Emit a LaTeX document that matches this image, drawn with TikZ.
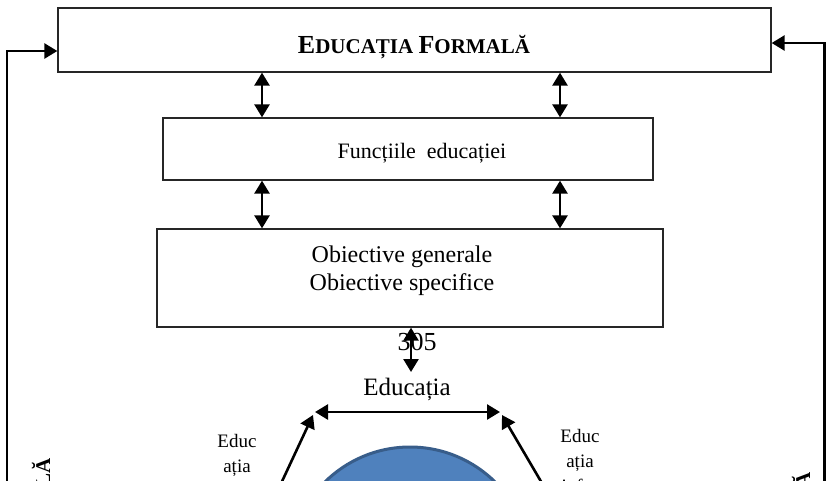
\documentclass[tikz,border=0pt]{standalone}
\usepackage{fontspec}
\setmainfont{Liberation Serif}
\usetikzlibrary{arrows.meta}
\definecolor{corefill}{RGB}{79,129,189}
\definecolor{coreedge}{RGB}{56,93,138}
% hand-made small capitals: full-size initial, smaller remaining letters
\newcommand{\scbig}{\fontsize{26}{30}\selectfont}
\newcommand{\scsmall}{\fontsize{21}{25}\selectfont}

\begin{document}
\begin{tikzpicture}[x=1pt,y=-1pt,
  box/.style={draw=black!85, line width=1.3pt, fill=white, inner sep=0pt},
  link/.style={line width=2.6pt, -{Triangle[length=13pt,width=15pt]}},
  both/.style={line width=2.6pt, {Triangle[length=13pt,width=15pt]}-{Triangle[length=13pt,width=15pt]}},
  bodytext/.style={inner sep=0pt, anchor=base, font=\fontsize{24}{28}\selectfont},
  sidetext/.style={inner sep=0pt, anchor=base, font=\fontsize{19}{24}\selectfont},
  headtext/.style={inner sep=0pt, font=\bfseries}]

\useasboundingbox (0,0) rectangle (826,480);
\clip (0,0) rectangle (826,480);

% columns used by the vertical double arrows
\coordinate (colL) at (262,0);
\coordinate (colR) at (560,0);
\coordinate (colM) at (411,0);

% the three stacked boxes
\node[box, minimum width=713pt, minimum height=64pt] (formal) at (414.5,40) {};
\node[headtext, anchor=base] (formaltxt) at (414,53)
  {\scbig E\scsmall DUCAȚIA \scbig F\scsmall ORMALĂ};

\node[box, minimum width=490pt, minimum height=62pt] (funct) at (408,149) {};
\node[bodytext, font=\fontsize{22}{26}\selectfont] (functxt) at (422,158) {Funcțiile\ \ educației};

\node[box, minimum width=506pt, minimum height=98pt] (obj) at (410,278) {};
\node[bodytext] (objA) at (402,262) {Obiective generale};
\node[bodytext] (objB) at (402,290) {Obiective specifice};

\draw[both] (formal.south -| colL) -- (funct.north -| colL);
\draw[both] (formal.south -| colR) -- (funct.north -| colR);
\draw[both] (funct.south -| colL) -- (obj.north -| colL);
\draw[both] (funct.south -| colR) -- (obj.north -| colR);

% page number and the link down to the lower part
\node[bodytext, font=\fontsize{26}{30}\selectfont] (pagenum) at (417,350) {305};
\coordinate (midEnd) at (411,372);
\draw[both] (obj.south -| colM) -- (midEnd);

\node[bodytext, font=\fontsize{25}{29}\selectfont] (edu) at (407,395) {Educația};

% upper link of the lower triangle
\coordinate (hl) at (315,412);
\coordinate (hr) at (500,412);
\draw[both] (hl) -- (hr);

% central disc
\node[circle, fill=corefill, draw=coreedge, line width=3pt, minimum size=242pt, inner sep=0pt] (core) at (410,568) {};

% slanted links
\coordinate (dlTop) at (313,415);
\coordinate (dlBot) at (278,490);
\coordinate (drTop) at (502,415);
\coordinate (drBot) at (546,490);
\draw[link] (dlBot) -- (dlTop);
\draw[link] (drBot) -- (drTop);

% side labels
\node[sidetext] (nfA) at (237,447) {Educ};
\node[sidetext] (nfB) at (237,472) {ația};
\node[sidetext] (ifA) at (580,442) {Educ};
\node[sidetext] (ifB) at (580,467) {ația};
\node[sidetext] (ifC) at (580,492) {infor};

% outer feedback lines
\coordinate (leftDown) at (7,490);
\coordinate (rightDown) at (824.5,490);
\draw[link] (leftDown) |- ([yshift=-11pt]formal.west);
\draw[link] (rightDown) |- ([yshift=-3pt]formal.east);

% vertical titles along the sides
\node[headtext, rotate=90, anchor=base east] (nonformal) at (50,458)
  {\scbig E\scsmall DUCAȚIA \scbig N\scsmall ONFORMALĂ};
\node[headtext, rotate=90, anchor=base east] (informal) at (810,472)
  {\scbig E\scsmall DUCAȚIA \scbig I\scsmall NFORMALĂ};
\end{tikzpicture}
\end{document}
